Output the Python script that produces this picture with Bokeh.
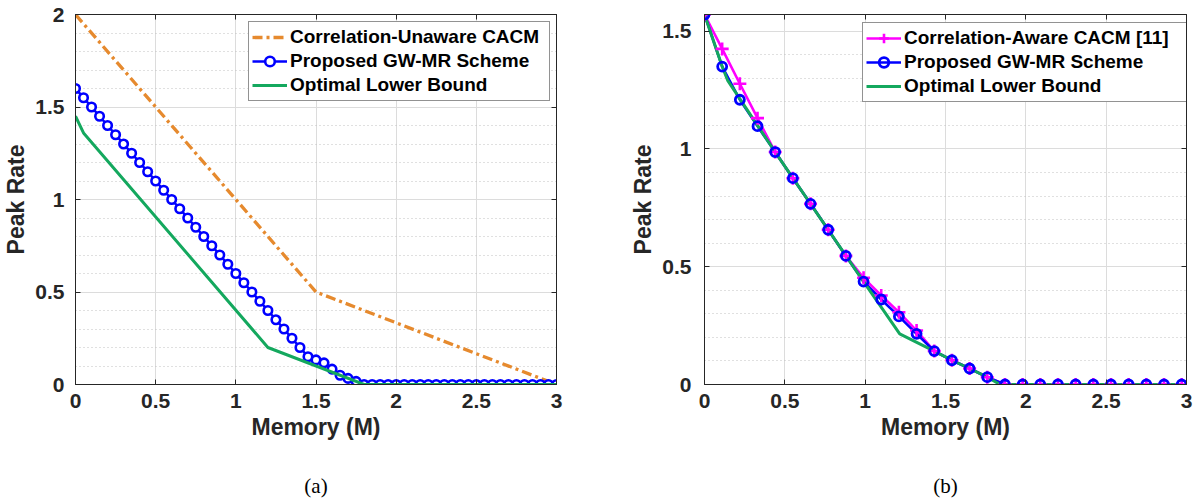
from bokeh.plotting import figure
from bokeh.models import (Range1d, SingleIntervalTicker, FixedTicker, LinearAxis, Legend,
                          LegendItem)
from bokeh.layouts import row
from bokeh.embed import file_html
from bokeh.resources import INLINE

# ---------------- data ----------------
x_tick_values = [0, 0.5, 1, 1.5, 2, 2.5, 3]
x_tick_labels = ["0", "0.5", "1", "1.5", "2", "2.5", "3"]
y_tick_values_a = [0, 0.5, 1, 1.5, 2]
y_tick_labels_a = ["0", "0.5", "1", "1.5", "2"]
y_tick_values_b = [0, 0.5, 1, 1.5]
y_tick_labels_b = ["0", "0.5", "1", "1.5"]

x_label = "Memory (M)"
y_label = "Peak Rate"
captions = ["(a)", "(b)"]

# (a)
a_unaware_x = [0, 1.5, 3]
a_unaware_y = [2, 0.5, 0]
a_gwmr_x = [0.00, 0.05, 0.10, 0.15, 0.20, 0.25, 0.30, 0.35, 0.40, 0.45,
            0.50, 0.55, 0.60, 0.65, 0.70, 0.75, 0.80, 0.85, 0.90, 0.95,
            1.00, 1.05, 1.10, 1.15, 1.20, 1.25, 1.30, 1.35, 1.40, 1.45,
            1.50, 1.55, 1.60, 1.65, 1.70, 1.75, 1.80, 1.85, 1.90, 1.95,
            2.00, 2.05, 2.10, 2.15, 2.20, 2.25, 2.30, 2.35, 2.40, 2.45,
            2.50, 2.55, 2.60, 2.65, 2.70, 2.75, 2.80, 2.85, 2.90, 2.95, 3.00]
a_gwmr_y = [1.60, 1.55, 1.50, 1.45, 1.40, 1.35, 1.30, 1.25, 1.20, 1.15,
            1.10, 1.05, 1.00, 0.95, 0.90, 0.85, 0.80, 0.75, 0.70, 0.65,
            0.60, 0.55, 0.50, 0.45, 0.40, 0.35, 0.30, 0.25, 0.20, 0.15,
            0.133, 0.117, 0.083, 0.05, 0.033, 0.017, 0, 0, 0, 0,
            0, 0, 0, 0, 0, 0, 0, 0, 0, 0,
            0, 0, 0, 0, 0, 0, 0, 0, 0, 0, 0]
a_bound_x = [0, 0.05, 1.2, 1.8, 3]
a_bound_y = [1.45, 1.36, 0.2, 0, 0]
a_labels = ["Correlation-Unaware CACM", "Proposed GW-MR Scheme", "Optimal Lower Bound"]

# (b)
b_x = [0, 0.11, 0.22, 0.33, 0.44, 0.55, 0.66, 0.77, 0.88, 0.99,
       1.10, 1.21, 1.32, 1.43, 1.54, 1.65, 1.76, 1.87, 1.98, 2.09,
       2.20, 2.31, 2.42, 2.53, 2.64, 2.75, 2.86, 2.97]
b_aware_y = [1.571, 1.425, 1.277, 1.131, 0.987, 0.876, 0.767, 0.657, 0.546, 0.453,
             0.378, 0.307, 0.229, 0.142, 0.103, 0.068, 0.031, 0, 0, 0,
             0, 0, 0, 0, 0, 0, 0, 0]
b_gwmr_y = [1.571, 1.350, 1.209, 1.097, 0.987, 0.876, 0.767, 0.657, 0.546, 0.437,
            0.361, 0.289, 0.215, 0.142, 0.103, 0.068, 0.031, 0, 0, 0,
            0, 0, 0, 0, 0, 0, 0, 0]
b_bound_x = [0, 0.11, 0.145, 0.44, 0.99, 1.215, 1.43, 1.54, 1.65, 1.76, 1.84, 2.97]
b_bound_y = [1.571, 1.35, 1.29, 0.987, 0.437, 0.215, 0.142, 0.103, 0.068, 0.031, 0, 0]
b_labels = ["Correlation-Aware CACM [11]", "Proposed GW-MR Scheme", "Optimal Lower Bound"]

# ---------------- style ----------------
AX = "#262626"
ORANGE = "#E68A2E"
BLUE = "#0000FF"
GREEN = "#14A85E"
MAGENTA = "#FF00FF"
FONT = "Liberation Sans"
HEIGHT = 501


def make_fig(width, left, right, y_end, y_vals, y_labs, ytick_standoff, caption):
    p = figure(width=width, height=HEIGHT, x_range=Range1d(0, 3), y_range=Range1d(0, y_end),
               output_backend="svg", toolbar_location=None,
               min_border_left=left, min_border_right=right,
               min_border_top=14, min_border_bottom=117,
               x_axis_label=x_label, y_axis_label=y_label)
    p.background_fill_color = "white"
    p.border_fill_color = "white"
    p.outline_line_color = AX
    p.outline_line_width = 1

    xt = SingleIntervalTicker(interval=0.5, num_minor_ticks=0)
    yt = SingleIntervalTicker(interval=0.5, num_minor_ticks=5)
    p.xaxis.ticker = xt
    p.yaxis.ticker = yt
    p.xaxis.major_label_overrides = {v: s for v, s in zip(x_tick_values, x_tick_labels)}
    p.yaxis.major_label_overrides = {v: s for v, s in zip(y_vals, y_labs)}

    for ax in (p.xaxis[0], p.yaxis[0]):
        ax.major_label_text_font = FONT
        ax.major_label_text_font_style = "bold"
        ax.major_label_text_font_size = "21px"
        ax.major_label_text_color = AX
        ax.axis_label_text_font = FONT
        ax.axis_label_text_font_style = "bold"
        ax.axis_label_text_font_size = "23px"
        ax.axis_label_text_color = AX
        ax.axis_line_color = AX
        ax.major_tick_line_color = AX
        ax.major_tick_in = 5
        ax.major_tick_out = 0
        ax.minor_tick_line_color = None
    p.xaxis.major_label_standoff = 9
    p.xaxis.axis_label_standoff = 3
    p.yaxis.major_label_standoff = ytick_standoff
    p.yaxis.axis_label_standoff = 3

    # tick marks on the top and right edges of the box
    for side, tk in (("above", xt), ("right", yt)):
        extra = LinearAxis(ticker=tk, major_label_text_font_size="0px",
                           major_label_text_color=None, major_label_standoff=0,
                           major_tick_in=5, major_tick_out=0, minor_tick_line_color=None,
                           axis_line_color=AX, major_tick_line_color=AX)
        p.add_layout(extra, side)

    # caption "(a)" / "(b)" as the label of a bare axis stacked below the x axis
    cap = LinearAxis(ticker=FixedTicker(ticks=[]), axis_line_color=None,
                     major_tick_line_color=None, minor_tick_line_color=None,
                     major_tick_in=0, major_tick_out=0, major_label_standoff=0,
                     major_label_text_font_size="0px", major_label_text_color=None,
                     axis_label=caption, axis_label_standoff=31,
                     axis_label_text_font="Liberation Serif",
                     axis_label_text_font_style="normal",
                     axis_label_text_font_size="21px", axis_label_text_color="black")
    p.add_layout(cap, "below")

    p.xgrid.ticker = xt
    p.ygrid.ticker = yt
    p.xgrid.grid_line_color = "#dcdcdc"
    p.ygrid.grid_line_color = "#dcdcdc"
    p.ygrid.minor_grid_line_color = "#c0c0c0"
    p.ygrid.minor_grid_line_dash = "1 3"
    return p


def style_legend(lg, label_width):
    lg.label_text_font = FONT
    lg.label_text_font_style = "bold"
    lg.label_text_font_size = "19px"
    lg.label_text_color = "black"
    lg.border_line_color = AX
    lg.border_line_width = 1
    lg.background_fill_color = "white"
    lg.background_fill_alpha = 1
    lg.padding = 3
    lg.spacing = 0
    lg.margin = 0
    lg.glyph_width = 35
    lg.glyph_height = 24
    lg.label_height = 24
    lg.label_standoff = 3
    lg.label_width = label_width


# ---------------- (a) ----------------
p1 = make_fig(608, 72, 52, 2, y_tick_values_a, y_tick_labels_a, 7, captions[0])
r_or = p1.line(a_unaware_x, a_unaware_y, line_color=ORANGE, line_width=3.3, line_dash="10 4 3 4")
r_bl = p1.line(a_gwmr_x, a_gwmr_y, line_color=BLUE, line_width=2.6)
r_bp = p1.scatter(a_gwmr_x, a_gwmr_y, marker="circle", size=8.5, line_color=BLUE,
                  line_width=2.6, fill_color="white")
r_gr = p1.line(a_bound_x, a_bound_y, line_color=GREEN, line_width=3)
lg1 = Legend(items=[LegendItem(label=a_labels[0], renderers=[r_or]),
                    LegendItem(label=a_labels[1], renderers=[r_bl, r_bp]),
                    LegendItem(label=a_labels[2], renderers=[r_gr])],
             location=(173, 283))
style_legend(lg1, 256)
p1.add_layout(lg1)

# ---------------- (b) ----------------
p2 = make_fig(588, 96, 10, 1.571, y_tick_values_b, y_tick_labels_b, 9, captions[1])
m_l = p2.line(b_x, b_aware_y, line_color=MAGENTA, line_width=2.6)
b_l = p2.line(b_x, b_gwmr_y, line_color=BLUE, line_width=2.6)
g_l = p2.line(b_bound_x, b_bound_y, line_color=GREEN, line_width=3)
m_p = p2.scatter(b_x, b_aware_y, marker="cross", size=13, line_color=MAGENTA, line_width=2.6)
b_p = p2.scatter(b_x, b_gwmr_y, marker="circle", size=9, line_color=BLUE, line_width=2.8,
                 fill_color=None)
lg2 = Legend(items=[LegendItem(label=b_labels[0], renderers=[m_l, m_p]),
                    LegendItem(label=b_labels[1], renderers=[b_l, b_p]),
                    LegendItem(label=b_labels[2], renderers=[g_l])],
             location=(158, 282))
style_legend(lg2, 279)
p2.add_layout(lg2)

layout = row(p1, p2)
open("out.html", "w").write(file_html(layout, INLINE))
